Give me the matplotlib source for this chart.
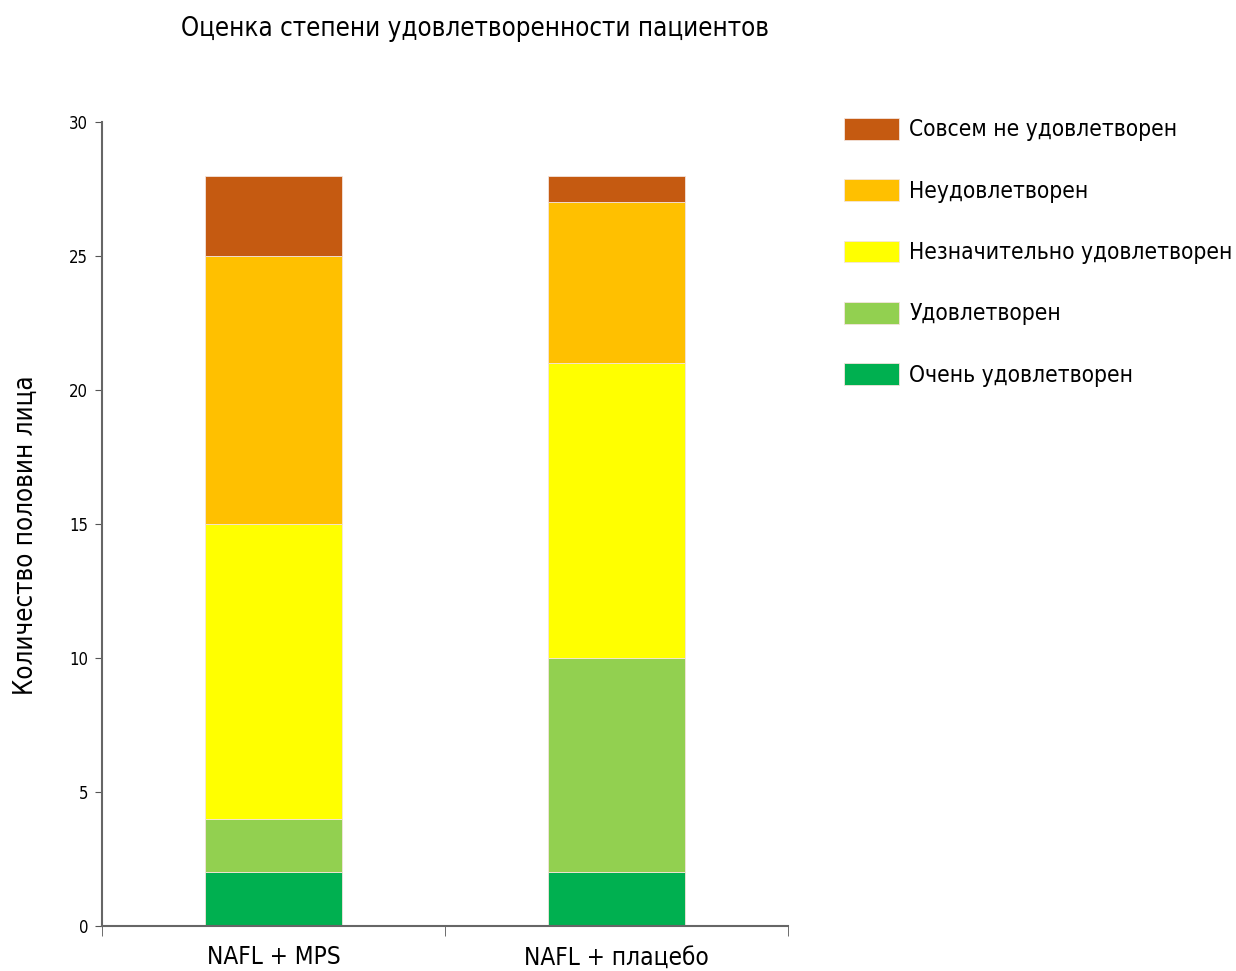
import numpy as np
import matplotlib.pyplot as plt
from matplotlib.ticker import FixedLocator

groups = ['NAFL + MPS', 'NAFL + плацебо']
levels = ['Очень удовлетворен', 'Удовлетворен', 'Незначительно удовлетворен',
          'Неудовлетворен', 'Совсем не удовлетворен']
very_satisfied = [2, 2]
satisfied = [2, 8]
slightly = [11, 11]
unsatisfied = [10, 6]
not_at_all = [3, 1]
colors = ['#00B050', '#92D050', '#FFFF00', '#FFC000', '#C55A11']

plt.rcParams['font.family'] = ['DejaVu Sans']
plt.rcParams['font.stretch'] = 'condensed'

fig = plt.figure(figsize=(12.36, 9.71), dpi=100)
ax = fig.add_axes([0.0825, 0.0463, 0.555, 0.8281])

x = np.arange(len(groups))
bottom = np.zeros(len(groups))
handles = []
for vals, lab, col in zip([very_satisfied, satisfied, slightly, unsatisfied, not_at_all], levels, colors):
    b = ax.bar(x, vals, 0.4, bottom=bottom, color=col, label=lab,
               edgecolor='#f4e4dc', linewidth=0.6)
    handles.append(b)
    bottom += vals

ax.set_xlim(-0.5, 1.5)
ax.set_ylim(0, 30)
ax.set_yticks([0, 5, 10, 15, 20, 25, 30])
ax.set_xticks(x)
ax.set_xticklabels(groups, fontsize=17.5)
ax.xaxis.set_minor_locator(FixedLocator([-0.5, 0.5, 1.5]))
ax.tick_params(axis='x', which='major', length=0, pad=14)
ax.tick_params(axis='x', which='minor', length=7, color='#555555', direction='out')
ax.tick_params(axis='y', length=5, color='#555555', labelsize=12, pad=5)

for s in ['top', 'right']:
    ax.spines[s].set_visible(False)
for s in ['left', 'bottom']:
    ax.spines[s].set_color('#666666')
    ax.spines[s].set_linewidth(1.5)

ax.set_ylabel('Количество половин лица', fontsize=18.5)
ax.yaxis.set_label_coords(-0.092, 0.486)
fig.text(0.384, 0.97, 'Оценка степени удовлетворенности пациентов',
         ha='center', va='center', fontsize=18.5)

leg = fig.legend(handles[::-1], levels[::-1], loc='upper left',
                 bbox_to_anchor=(0.6752, 0.888), frameon=False, fontsize=16.3,
                 handlelength=2.45, handleheight=1.1, labelspacing=1.67,
                 handletextpad=0.45, borderaxespad=0)

fig.savefig('out.png', dpi=100)
